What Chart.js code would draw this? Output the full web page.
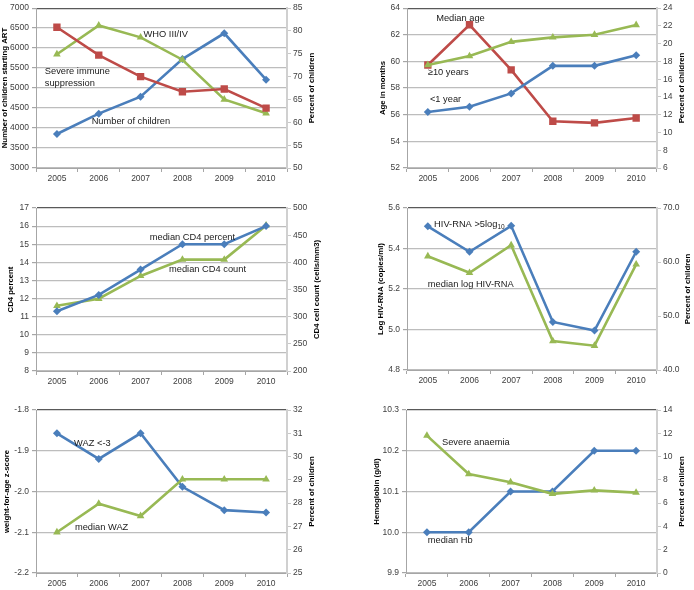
<!DOCTYPE html>
<html><head><meta charset="utf-8">
<script src="https://cdn.jsdelivr.net/npm/chart.js@4.4.0/dist/chart.umd.min.js"></script>
<style>
html,body{margin:0;padding:0;background:#fff;}
body{width:694px;height:590px;position:relative;overflow:hidden;}
.p{position:absolute;}
</style></head><body>
<div class="p" id="w1"><canvas id="c1"></canvas></div>
<div class="p" id="w2"><canvas id="c2"></canvas></div>
<div class="p" id="w3"><canvas id="c3"></canvas></div>
<div class="p" id="w4"><canvas id="c4"></canvas></div>
<div class="p" id="w5"><canvas id="c5"></canvas></div>
<div class="p" id="w6"><canvas id="c6"></canvas></div>
<script>
// ---------- DATA ----------
const years = ['2005', '2006', '2007', '2008', '2009', '2010'];
// Panel 1
const numChildren = [3850, 4360, 4785, 5725, 6370, 5210];
const severeImmunePct = [80.8, 74.7, 70.0, 66.7, 67.3, 63.1];
const whoStagePct = [74.9, 81.2, 78.6, 73.7, 65.0, 62.0];
// Panel 2
const medianAgeMonths = [59.73, 62.75, 59.36, 55.51, 55.39, 55.75];
const age10PlusPct = [17.6, 18.6, 20.2, 20.7, 21.0, 22.1];
const ageUnder1Pct = [12.3, 12.9, 14.4, 17.5, 17.5, 18.7];
// Panel 3
const medianCD4Percent = [11.3, 12.2, 13.6, 15.0, 15.0, 16.0];
const medianCD4Count = [320, 333, 375, 405, 405, 468];
// Panel 4
const medianLogRNA = [5.362, 5.280, 5.416, 4.943, 4.920, 5.322];
const rnaAbove5Pct = [66.6, 61.9, 66.7, 48.9, 47.3, 61.9];
// Panel 5
const medianWAZ = [-2.10, -2.03, -2.06, -1.97, -1.97, -1.97];
const wazBelow3Pct = [31.0, 29.9, 31.0, 28.7, 27.7, 27.6];
// Panel 6
const medianHb = [10.0, 10.0, 10.1, 10.1, 10.2, 10.2];
const severeAnaemiaPct = [11.8, 8.5, 7.8, 6.8, 7.1, 6.9];

// ---------- STYLE ----------
const BLUE = '#4A7EBB', RED = '#BE4B48', GREEN = '#98B954';
const FONT = '"Liberation Sans", Arial, sans-serif';
const TICKCOL = '#404040';

function series(label, data, color, shape, axis, radius) {
  return {
    label, data, yAxisID: axis, borderColor: color, backgroundColor: color,
    borderWidth: 2.6, pointStyle: shape, pointRadius: radius, pointHoverRadius: radius,
    pointBorderWidth: 0, tension: 0
  };
}

const textPlugin = {
  id: 'txt',
  afterDraw(chart) {
    const o = chart.options.plugins.txt;
    const ctx = chart.ctx, a = chart.chartArea;
    const xs = chart.scales.x, ys = chart.scales.y;
    ctx.save();
    ctx.fillStyle = '#000';
    ctx.font = 'bold 7.8px ' + FONT;
    ctx.textAlign = 'center'; ctx.textBaseline = 'middle';
    const cy = (a.top + a.bottom) / 2;
    ctx.save(); ctx.translate(a.left - o.lOff, cy); ctx.rotate(-Math.PI / 2); ctx.fillText(o.lTitle, 0, 0); ctx.restore();
    ctx.save(); ctx.translate(a.right + o.rOff, cy); ctx.rotate(-Math.PI / 2); ctx.fillText(o.rTitle, 0, 0); ctx.restore();
    ctx.fillStyle = '#1a1a1a';
    ctx.textAlign = 'left';
    o.labels.forEach(l => {
      const px = xs.getPixelForValue(0) + l.xi * (xs.getPixelForValue(1) - xs.getPixelForValue(0));
      const py = ys.getPixelForValue(l.yv);
      ctx.font = '9.3px ' + FONT;
      ctx.fillText(l.text, px, py);
      if (l.sub) {
        const w = ctx.measureText(l.text).width;
        ctx.font = '6.5px ' + FONT;
        ctx.fillText(l.sub, px + w, py + 3);
      }
    });
    ctx.restore();
  }
};

function makePanel(id, box, area, lAxis, rAxis, datasets, txt) {
  const wrap = document.getElementById('w' + id);
  wrap.style.left = box.x + 'px'; wrap.style.top = box.y + 'px';
  wrap.style.width = box.w + 'px'; wrap.style.height = box.h + 'px';
  const wL = 30, wR = 28, hX = 16;
  const pad = {
    left: area.l - box.x - wL,
    right: box.x + box.w - area.r - wR,
    top: area.t - box.y,
    bottom: box.y + box.h - area.b - hX
  };
  const fmt = lAxis.dec !== undefined ? (v => Number(v).toFixed(lAxis.dec)) : (v => String(v));
  const fmtR = rAxis.dec !== undefined ? (v => Number(v).toFixed(rAxis.dec)) : (v => String(v));
  new Chart(document.getElementById('c' + id), {
    type: 'line',
    data: { labels: years, datasets },
    options: {
      responsive: true, maintainAspectRatio: false, animation: false,
      layout: { padding: pad },
      plugins: { legend: { display: false }, tooltip: { enabled: false }, txt },
      scales: {
        x: {
          offset: true,
          afterFit: s => { s.height = hX; },
          grid: { offset: true, drawOnChartArea: false, drawTicks: true, tickLength: 4, tickColor: '#a6a6a6' },
          border: { color: '#a6a6a6', width: 1 },
          ticks: { font: { family: FONT, size: 8.5 }, color: TICKCOL, padding: 2, maxRotation: 0 }
        },
        y: {
          position: 'left', min: lAxis.min, max: lAxis.max,
          afterFit: s => { s.width = wL; },
          grid: {
            color: c => (c.tick && Math.abs(c.tick.value - lAxis.max) < 1e-9) ? '#595959' : '#bdbdbd',
            lineWidth: 1.2, tickLength: 4, tickColor: '#a6a6a6'
          },
          border: { color: '#a6a6a6', width: 1 },
          ticks: { stepSize: lAxis.step, font: { family: FONT, size: 8.5 }, color: TICKCOL, padding: 3, callback: fmt }
        },
        y1: {
          position: 'right', min: rAxis.min, max: rAxis.max,
          afterFit: s => { s.width = wR; },
          grid: { drawOnChartArea: false, tickLength: 4, tickColor: '#c8c8c8' },
          border: { color: '#d0d0d0', width: 2 },
          ticks: { stepSize: rAxis.step, font: { family: FONT, size: 8.5 }, color: TICKCOL, padding: 2, callback: fmtR }
        }
      }
    },
    plugins: [textPlugin]
  });
}

// Panel 1
makePanel(1, { x: 0, y: 0, w: 347, h: 195 }, { l: 36, r: 287, t: 5, b: 168 },
  { min: 3000, max: 7000, step: 500 }, { min: 50, max: 85, step: 5 },
  [
    series('Severe immune suppression', severeImmunePct, RED, 'rect', 'y1', 5.2),
    series('WHO III/IV', whoStagePct, GREEN, 'triangle', 'y1', 4.4),
    series('Number of children', numChildren, BLUE, 'rectRot', 'y', 4)
  ],
  {
    lTitle: 'Number of children starting ART', lOff: 31, rTitle: 'Percent of children', rOff: 25,
    labels: [
      { text: 'WHO III/IV', xi: 2.07, yv: 6337 },
      { text: 'Severe immune', xi: -0.29, yv: 5405 },
      { text: 'suppression', xi: -0.29, yv: 5110 },
      { text: 'Number of children', xi: 0.83, yv: 4153 }
    ]
  });

// Panel 2
makePanel(2, { x: 347, y: 0, w: 347, h: 195 }, { l: 407, r: 657, t: 5, b: 168 },
  { min: 52, max: 64, step: 2 }, { min: 6, max: 24, step: 2 },
  [
    series('≥10 years', age10PlusPct, GREEN, 'triangle', 'y1', 4.4),
    series('<1 year', ageUnder1Pct, BLUE, 'rectRot', 'y1', 4),
    series('Median age', medianAgeMonths, RED, 'rect', 'y', 5.2)
  ],
  {
    lTitle: 'Age in months', lOff: 24, rTitle: 'Percent of children', rOff: 25,
    labels: [
      { text: 'Median age', xi: 0.2, yv: 63.26 },
      { text: '≥10 years', xi: 0.0, yv: 59.2 },
      { text: '<1 year', xi: 0.05, yv: 57.15 }
    ]
  });

// Panel 3
makePanel(3, { x: 0, y: 195, w: 347, h: 195 }, { l: 36, r: 287, t: 208, b: 371 },
  { min: 8, max: 17, step: 1 }, { min: 200, max: 500, step: 50 },
  [
    series('median CD4 percent', medianCD4Percent, BLUE, 'rectRot', 'y', 4),
    series('median CD4 count', medianCD4Count, GREEN, 'triangle', 'y1', 4.4)
  ],
  {
    lTitle: 'CD4 percent', lOff: 25, rTitle: 'CD4 cell count (cells/mm3)', rOff: 30,
    labels: [
      { text: 'median CD4 percent', xi: 2.22, yv: 15.4 },
      { text: 'median CD4 count', xi: 2.68, yv: 13.63 }
    ]
  });

// Panel 4
makePanel(4, { x: 347, y: 195, w: 347, h: 195 }, { l: 407, r: 657, t: 208, b: 370 },
  { min: 4.8, max: 5.6, step: 0.2, dec: 1 }, { min: 40, max: 70, step: 10, dec: 1 },
  [
    series('median log HIV-RNA', medianLogRNA, GREEN, 'triangle', 'y', 4.4),
    series('HIV-RNA >5log10', rnaAbove5Pct, BLUE, 'rectRot', 'y1', 4)
  ],
  {
    lTitle: 'Log HIV-RNA (copies/ml)', lOff: 26, rTitle: 'Percent of children', rOff: 31,
    labels: [
      { text: 'HIV-RNA >5log', sub: '10', xi: 0.15, yv: 5.521 },
      { text: 'median log HIV-RNA', xi: 0.0, yv: 5.225 }
    ]
  });

// Panel 5
makePanel(5, { x: 0, y: 390, w: 347, h: 200 }, { l: 36, r: 287, t: 410, b: 573 },
  { min: -2.2, max: -1.8, step: 0.1, dec: 1 }, { min: 25, max: 32, step: 1 },
  [
    series('median WAZ', medianWAZ, GREEN, 'triangle', 'y', 4.4),
    series('WAZ <-3', wazBelow3Pct, BLUE, 'rectRot', 'y1', 4)
  ],
  {
    lTitle: 'weight-for-age z-score', lOff: 29, rTitle: 'Percent of children', rOff: 25,
    labels: [
      { text: 'WAZ <-3', xi: 0.41, yv: -1.881 },
      { text: 'median WAZ', xi: 0.43, yv: -2.087 }
    ]
  });

// Panel 6
makePanel(6, { x: 347, y: 390, w: 347, h: 200 }, { l: 406, r: 657, t: 410, b: 573 },
  { min: 9.9, max: 10.3, step: 0.1, dec: 1 }, { min: 0, max: 14, step: 2 },
  [
    series('Severe anaemia', severeAnaemiaPct, GREEN, 'triangle', 'y1', 4.4),
    series('median Hb', medianHb, BLUE, 'rectRot', 'y', 4)
  ],
  {
    lTitle: 'Hemoglobin (g/dl)', lOff: 29, rTitle: 'Percent of children', rOff: 25,
    labels: [
      { text: 'Severe anaemia', xi: 0.36, yv: 10.221 },
      { text: 'median Hb', xi: 0.02, yv: 9.979 }
    ]
  });
</script>
</body></html>
